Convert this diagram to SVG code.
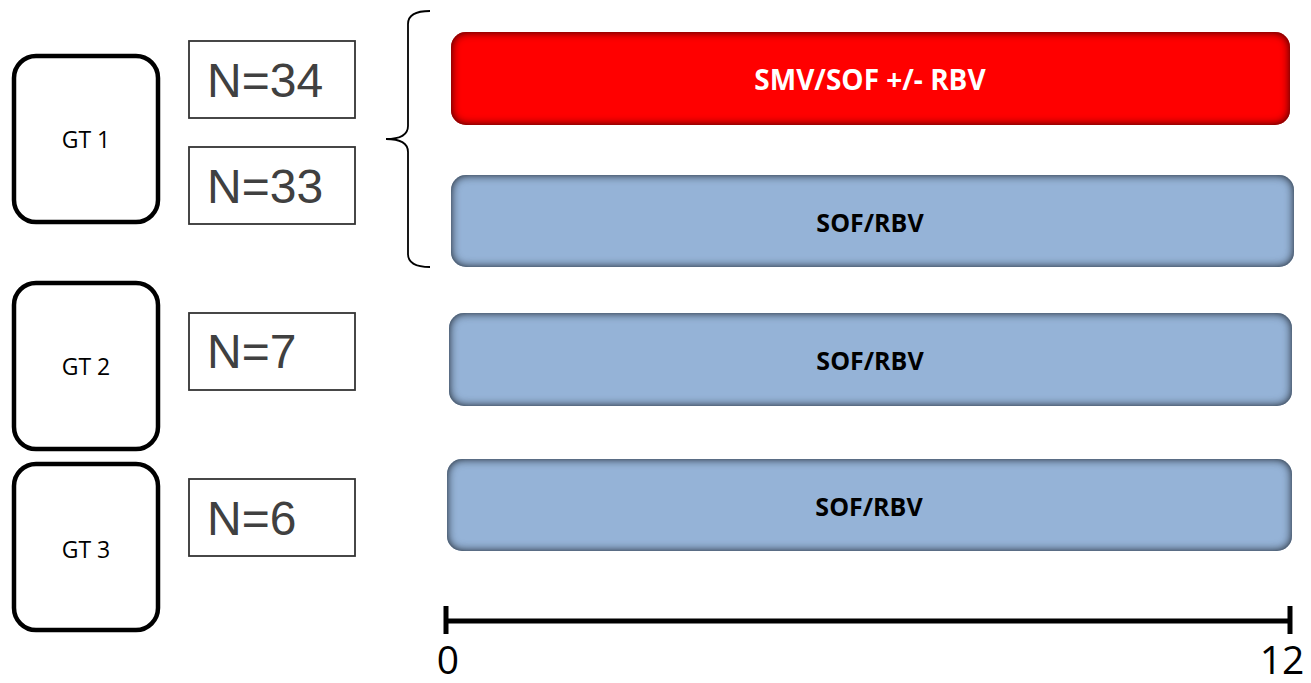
<svg xmlns="http://www.w3.org/2000/svg" width="1311" height="683" viewBox="0 0 1311 683">
<style>
.gt{fill:#fff;stroke:#000;stroke-width:4.5}
.gtt{font-family:"Open Sans","Liberation Sans",sans-serif;font-size:23px;fill:#000;text-anchor:middle}
.nb{fill:#fff;stroke:#333;stroke-width:1.8}
.nt{font-family:"Liberation Sans",Arial,sans-serif;font-size:48px;fill:#404040}
.red{fill:#ff0000}
.blue{fill:#95b3d7}
.bt{font-family:"Open Sans","Liberation Sans",sans-serif;font-weight:bold;font-size:25px;text-anchor:middle}
.ax{font-family:"Open Sans","Liberation Sans",sans-serif;font-size:39px;fill:#000;text-anchor:middle}
</style>
<defs>
<filter id="inner" x="-5%" y="-20%" width="110%" height="140%">
<feComponentTransfer in="SourceAlpha" result="inv"><feFuncA type="table" tableValues="1 0"/></feComponentTransfer>
<feGaussianBlur in="inv" stdDeviation="5" result="blur"/>
<feFlood flood-color="#000" flood-opacity="0.9"/>
<feComposite in2="blur" operator="in" result="sh"/>
<feComposite in="sh" in2="SourceAlpha" operator="in" result="ish"/>
<feMerge><feMergeNode in="SourceGraphic"/><feMergeNode in="ish"/><feMergeNode in="ish"/></feMerge>
</filter>
</defs>
<rect width="1311" height="683" fill="#fff"/>
<g id="gt1"><rect class="gt" x="14" y="56" width="144" height="166" rx="22"/><text class="gtt" x="86" y="148">GT 1</text></g>
<g id="gt2"><rect class="gt" x="14" y="283" width="144" height="166" rx="22"/><text class="gtt" x="86" y="375">GT 2</text></g>
<g id="gt3"><rect class="gt" x="14" y="464" width="144" height="166" rx="22"/><text class="gtt" x="86" y="558">GT 3</text></g>
<g id="n34"><rect class="nb" x="189" y="41" width="166" height="77"/><text class="nt" x="207" y="97">N=34</text></g>
<g id="n33"><rect class="nb" x="189" y="147" width="166" height="77"/><text class="nt" x="207" y="203">N=33</text></g>
<g id="n7"><rect class="nb" x="189" y="313" width="166" height="77"/><text class="nt" x="207" y="368">N=7</text></g>
<g id="n6"><rect class="nb" x="189" y="479" width="166" height="77"/><text class="nt" x="207" y="535">N=6</text></g>
<g id="bar1"><rect class="red" filter="url(#inner)" x="451" y="32" width="839" height="93" rx="15"/><text class="bt" x="870" y="90" fill="#fff" style="font-size:28px">SMV/SOF +/- RBV</text></g>
<g id="bar2"><rect class="blue" filter="url(#inner)" x="451" y="175" width="843" height="92" rx="15"/><text class="bt" x="870" y="232" fill="#000">SOF/RBV</text></g>
<g id="bar3"><rect class="blue" filter="url(#inner)" x="449" y="313" width="843" height="93" rx="15"/><text class="bt" x="870" y="370" fill="#000">SOF/RBV</text></g>
<g id="bar4"><rect class="blue" filter="url(#inner)" x="447" y="459" width="845" height="92" rx="15"/><text class="bt" x="869" y="516" fill="#000">SOF/RBV</text></g>
<g id="connectors">
<path d="M430 11 Q408 11 408 24 L408 126 Q408 139 386 139 Q408 139 408 152 L408 254 Q408 267 430 267" fill="none" stroke="#000" stroke-width="1.8"/>
<line x1="446" y1="621" x2="1292" y2="621" stroke="#000" stroke-width="5"/>
<line x1="446" y1="606" x2="446" y2="634" stroke="#000" stroke-width="5"/>
<line x1="1290" y1="606" x2="1290" y2="634" stroke="#000" stroke-width="5"/>
</g>
<text class="ax" x="448" y="674">0</text>
<text class="ax" x="1282" y="674">12</text>
</svg>
